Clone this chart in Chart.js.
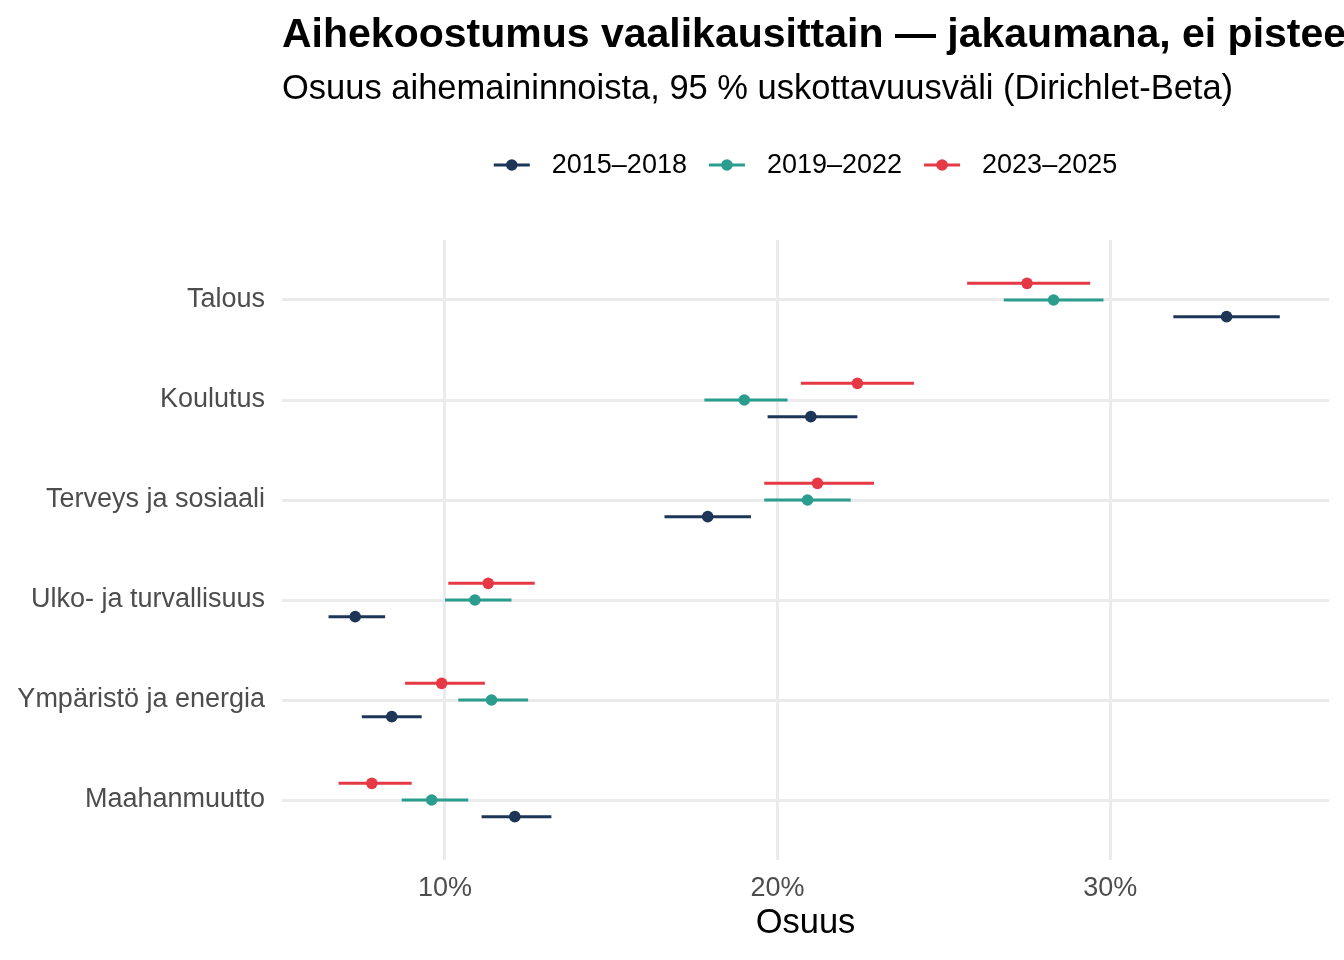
<!DOCTYPE html>
<html>
<head>
<meta charset="utf-8">
<script src="https://cdn.jsdelivr.net/npm/chart.js@4.4.1/dist/chart.umd.min.js"></script>
<style>
  body { margin: 0; background: #fff; }
  #wrap { width: 1344px; height: 960px; }
</style>
</head>
<body>
<div id="wrap"><canvas id="chart" width="1344" height="960"></canvas></div>
<script>
// categories listed top to bottom as in the picture
var topics = ['Talous', 'Koulutus', 'Terveys ja sosiaali', 'Ulko- ja turvallisuus', 'Ympäristö ja energia', 'Maahanmuutto'];
var periods = ['2015–2018', '2019–2022', '2023–2025'];
var colors = ['#1d3557', '#2a9d8f', '#e63946'];

// share (%) point estimate and 95 % interval per period
var est2015 = [33.5, 21.0, 17.9, 7.3, 8.4, 12.1];
var lo2015  = [31.9, 19.7, 16.6, 6.5, 7.5, 11.1];
var hi2015  = [35.1, 22.4, 19.2, 8.2, 9.3, 13.2];

var est2019 = [28.3, 19.0, 20.9, 10.9, 11.4, 9.6];
var lo2019  = [26.8, 17.8, 19.6, 10.0, 10.4, 8.7];
var hi2019  = [29.8, 20.3, 22.2, 12.0, 12.5, 10.7];

var est2023 = [27.5, 22.4, 21.2, 11.3, 9.9, 7.8];
var lo2023  = [25.7, 20.7, 19.6, 10.1, 8.8, 6.8];
var hi2023  = [29.4, 24.1, 22.9, 12.7, 11.2, 9.0];

var xTicks = [10, 20, 30];

var titleText = 'Aihekoostumus vaalikausittain — jakaumana, ei pisteestimaattina';
var subtitleText = 'Osuus aihemaininnoista, 95 % uskottavuusväli (Dirichlet-Beta)';
var xTitle = 'Osuus';

var FONT = '"Liberation Sans", Arial, Helvetica, sans-serif';
var estimates = [est2015, est2019, est2023];
var lows = [lo2015, lo2019, lo2023];
var highs = [hi2015, hi2019, hi2023];
var dodge = [-1 / 6, 0, 1 / 6];
var n = topics.length;

function rowY(i) { return n - i; }

var datasets = periods.map(function (p, k) {
  return {
    label: p,
    data: topics.map(function (t, i) {
      return { x: estimates[k][i], y: rowY(i) + dodge[k], lo: lows[k][i], hi: highs[k][i] };
    }),
    backgroundColor: colors[k],
    borderColor: colors[k],
    pointRadius: 5.8,
    pointHoverRadius: 5.8,
    borderWidth: 0
  };
});

// horizontal interval lines, drawn with the chart scales
var intervals = {
  id: 'intervals',
  beforeDatasetsDraw: function (chart) {
    var ctx = chart.ctx;
    var xs = chart.scales.x, ys = chart.scales.y;
    ctx.save();
    ctx.lineWidth = 3;
    chart.data.datasets.forEach(function (ds) {
      ctx.strokeStyle = ds.borderColor;
      ds.data.forEach(function (d) {
        var y = ys.getPixelForValue(d.y);
        ctx.beginPath();
        ctx.moveTo(xs.getPixelForValue(d.lo), y);
        ctx.lineTo(xs.getPixelForValue(d.hi), y);
        ctx.stroke();
      });
    });
    ctx.restore();
  }
};

// title, subtitle, legend and axis title placed like the ggplot layout
var texts = {
  id: 'texts',
  afterDraw: function (chart) {
    var ctx = chart.ctx;
    var a = chart.chartArea;
    ctx.save();
    ctx.fillStyle = '#000';
    ctx.textAlign = 'left';
    ctx.textBaseline = 'alphabetic';
    ctx.font = 'bold 41px ' + FONT;
    ctx.fillText(titleText, a.left, 47);
    ctx.font = '34.5px ' + FONT;
    ctx.fillText(subtitleText, a.left, 99);

    // legend
    ctx.font = '27px ' + FONT;
    var keyW = 36, gap = 22, itemGap = 22;
    var widths = periods.map(function (p) { return ctx.measureText(p).width; });
    var total = 0;
    widths.forEach(function (w, k) { total += keyW + gap + w + (k < widths.length - 1 ? itemGap : 0); });
    var x = (a.left + a.right) / 2 - total / 2;
    var ly = 165;
    periods.forEach(function (p, k) {
      ctx.strokeStyle = colors[k];
      ctx.lineWidth = 3;
      ctx.beginPath();
      ctx.moveTo(x, ly);
      ctx.lineTo(x + keyW, ly);
      ctx.stroke();
      ctx.fillStyle = colors[k];
      ctx.beginPath();
      ctx.arc(x + keyW / 2, ly, 5.8, 0, Math.PI * 2);
      ctx.fill();
      ctx.fillStyle = '#000';
      ctx.textBaseline = 'middle';
      ctx.fillText(p, x + keyW + gap, ly + 1);
      x += keyW + gap + widths[k] + itemGap;
    });

    ctx.textAlign = 'center';
    ctx.font = '34.5px ' + FONT;
    ctx.fillText(xTitle, (a.left + a.right) / 2, 923);
    ctx.restore();
  }
};

new Chart(document.getElementById('chart'), {
  type: 'scatter',
  data: { datasets: datasets },
  options: {
    responsive: false,
    animation: false,
    devicePixelRatio: 1,
    layout: { padding: { left: 0, right: 15, top: 240, bottom: 0 } },
    plugins: {
      legend: { display: false },
      title: { display: false },
      tooltip: { enabled: false }
    },
    scales: {
      x: {
        type: 'linear',
        min: 5.1,
        max: 36.58,
        afterBuildTicks: function (scale) {
          scale.ticks = xTicks.map(function (v) { return { value: v }; });
        },
        afterFit: function (scale) { scale.height = 100; },
        border: { display: false },
        grid: { color: '#ebebeb', lineWidth: 3, drawTicks: false },
        ticks: {
          padding: 12,
          color: '#4d4d4d',
          font: { family: FONT, size: 27 },
          callback: function (v) { return v + '%'; }
        }
      },
      y: {
        type: 'linear',
        min: 0.4,
        max: 6.6,
        afterBuildTicks: function (scale) {
          scale.ticks = topics.map(function (t, i) { return { value: rowY(i) }; });
        },
        afterFit: function (scale) { scale.width = 282; },
        border: { display: false },
        grid: { color: '#ebebeb', lineWidth: 3, drawTicks: false },
        ticks: {
          padding: 17,
          color: '#4d4d4d',
          font: { family: FONT, size: 27 },
          callback: function (v) { return topics[n - v]; }
        }
      }
    }
  },
  plugins: [intervals, texts]
});
</script>
</body>
</html>
